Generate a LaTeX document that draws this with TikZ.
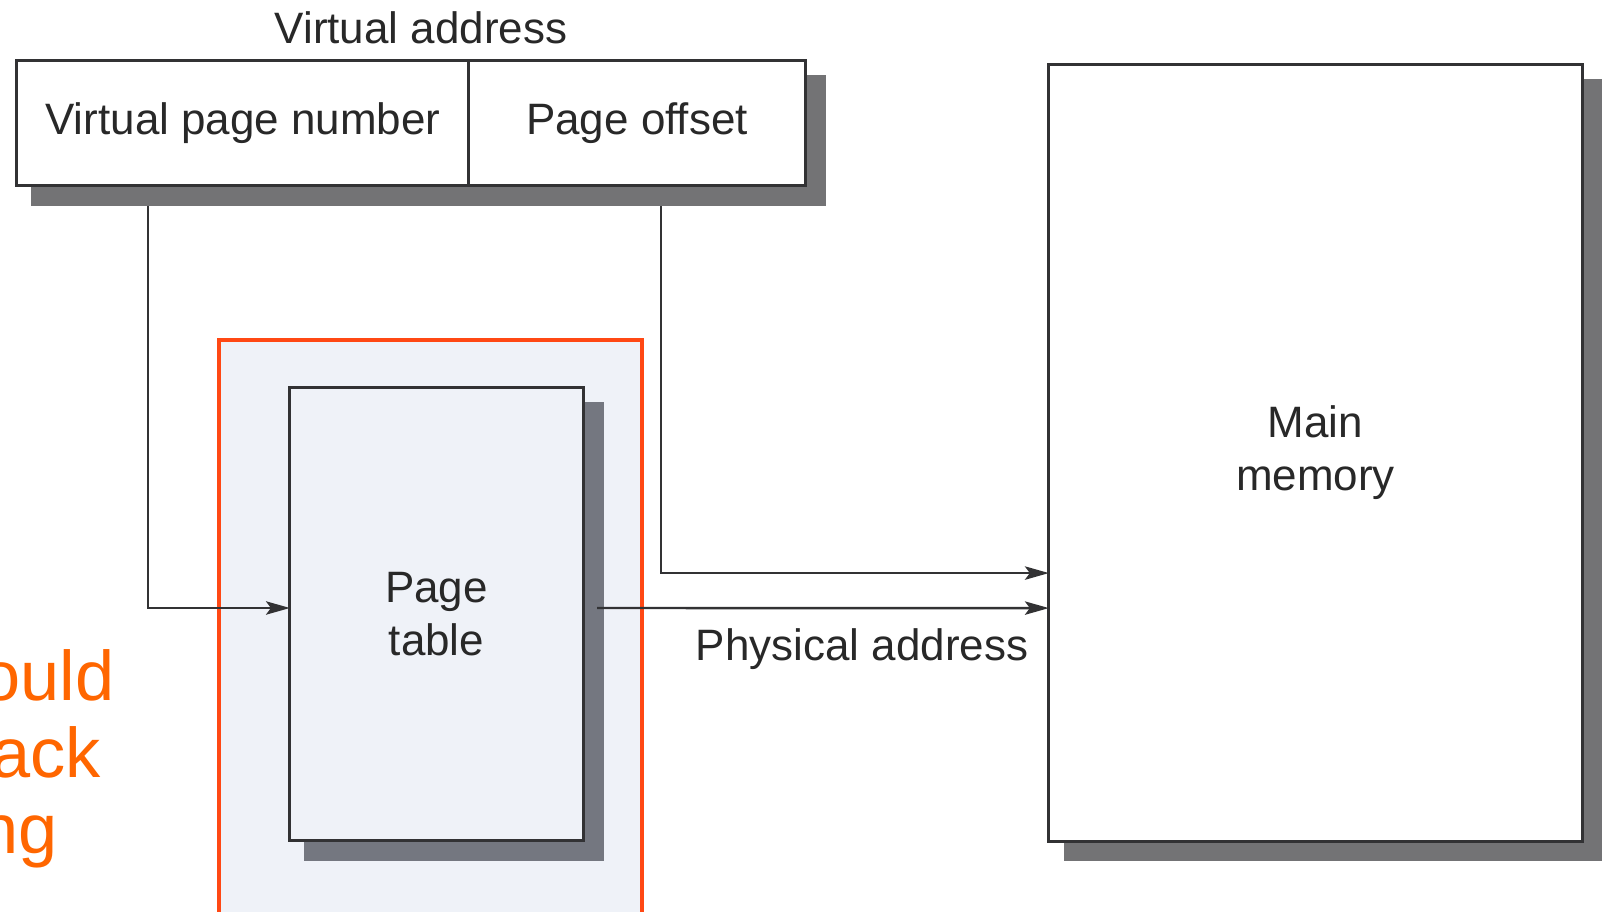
\documentclass[tikz,border=0pt]{standalone}
\usepackage{fontspec}
\setmainfont{Liberation Sans}
\usetikzlibrary{arrows.meta,calc,backgrounds}

\definecolor{ink}{RGB}{40,40,40}
\definecolor{linegray}{RGB}{50,50,52}
\definecolor{shadowgray}{RGB}{115,115,117}
\definecolor{ptshadow}{RGB}{116,119,128}
\definecolor{hlfill}{RGB}{239,242,248}
\definecolor{hlorange}{RGB}{255,72,20}
\definecolor{noteorange}{RGB}{255,102,0}

\begin{document}
\begin{tikzpicture}[x=0.01cm,y=-0.01cm,
  box/.style={draw=linegray,line width=0.85pt,inner sep=0pt,outer sep=0pt,
    align=center,text=ink,font=\fontsize{12.5}{15.1}\selectfont},
  lbl/.style={inner sep=0pt,text=ink,font=\fontsize{12.5}{15.1}\selectfont},
  conn/.style={draw=linegray,line width=0.7pt},
  arr/.style={conn,-{Stealth[length=6.8pt,width=3.8pt,inset=1.4pt]}},
  focusbox/.style={draw=hlorange,fill=hlfill,line width=1.1pt},
  note/.style={inner sep=0pt,anchor=base west,text=noteorange,
    font=\fontsize{20}{22}\selectfont}]

\clip (0,0) rectangle (1605,912);

% virtual address fields
\node[box,minimum width=4.52cm,minimum height=1.24cm,fill=white] (vpn) at (243,123) {Virtual page number};
\node[box,minimum width=3.36cm,minimum height=1.24cm,fill=white] (po) at (637,123) {Page offset};
\node[lbl,anchor=base] (va) at (421,44) {Virtual address};

% page table and main memory
\node[box,minimum width=2.93cm,minimum height=4.52cm,fill=hlfill] (pt) at (436.5,614) {Page\\table};
\node[box,minimum width=5.33cm,minimum height=7.76cm,fill=white] (mm) at (1315.5,453) {Main\\memory};

\begin{scope}[on background layer]
  \fill[white] (0,0) rectangle (1605,912);
  \draw[focusbox] (219,340) rectangle (642,950);
  \fill[shadowgray] ([shift={(14,14)}]vpn.north west) rectangle ([shift={(21,21)}]po.south east);
  \fill[ptshadow] ([shift={(14,14)}]pt.north west) rectangle ([shift={(21,21)}]pt.south east);
  \fill[shadowgray] ([shift={(15,14)}]mm.north west) rectangle ([shift={(20,20)}]mm.south east);
\end{scope}

% connectors
\coordinate (vpnout) at (148,206);
\coordinate (poout) at (661,206);
\coordinate (ptout) at ([xshift=0.14cm,yshift=0.06cm]pt.east);
\draw[arr] (vpnout) |- ([yshift=0.06cm]pt.west);
\draw[arr] (poout) |- ([yshift=-1.2cm]mm.west);
\draw[arr] (ptout) -- ([yshift=-1.55cm]mm.west);
\node[lbl,anchor=base] (pa) at (862,660) {Physical address};

% side note
\node[note] (n1) at (-19,700) {ould};
\node[note] (n2) at (-9,777) {ack};
\node[note] (n3) at (-21,853) {ng};
\end{tikzpicture}
\end{document}
